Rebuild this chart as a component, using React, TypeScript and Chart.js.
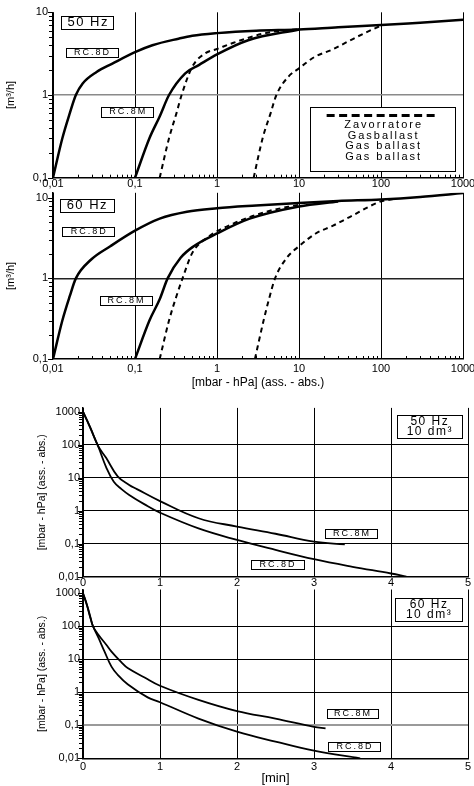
import React, { useEffect, useRef } from 'react';
import { Chart, registerables, ChartConfiguration, Plugin } from 'chart.js';

Chart.register(...registerables);

Chart.defaults.font.family = "'Liberation Sans', Arial, sans-serif";
Chart.defaults.color = '#000';

// ---- Flow rate [m3/h] vs pressure [mbar], 50 Hz ----
const rc8d50Pressure = [0.01, 0.013, 0.016, 0.019, 0.023, 0.034, 0.053, 0.1, 0.163, 0.34, 0.5, 1, 3, 10, 30, 100, 300, 1000];
const rc8d50Flow = [0.1, 0.3, 0.6, 1.0, 1.38, 1.9, 2.4, 3.3, 4.0, 4.8, 5.2, 5.6, 6.0, 6.2, 6.6, 7.0, 7.5, 8.1];
const rc8m50Pressure = [0.1, 0.15, 0.2, 0.26, 0.41, 0.6, 1, 2.4, 10];
const rc8m50Flow = [0.1, 0.3, 0.55, 1.0, 1.83, 2.3, 3.1, 4.6, 6.2];
const ballastD50Pressure = [0.2, 0.26, 0.32, 0.37, 0.5, 0.72, 1, 1.5, 3.9, 10];
const ballastD50Flow = [0.1, 0.3, 0.6, 1.0, 2.2, 3.2, 3.6, 4.2, 5.6, 6.3];
const ballastM50Pressure = [2.8, 3.6, 4.5, 5.3, 7.4, 10, 15.6, 24.8, 39, 63, 100];
const ballastM50Flow = [0.1, 0.3, 0.6, 1.0, 1.66, 2.1, 2.9, 3.5, 4.4, 5.6, 6.9];

// ---- Flow rate vs pressure, 60 Hz ----
const rc8d60Pressure = [0.01, 0.013, 0.016, 0.019, 0.029, 0.05, 0.1, 0.2, 0.43, 1, 3, 10, 30, 100, 300, 1000];
const rc8d60Flow = [0.1, 0.3, 0.6, 1.0, 1.7, 2.5, 3.9, 5.5, 6.7, 7.4, 8.0, 8.6, 9.1, 9.5, 10.2, 11.4];
const rc8m60Pressure = [0.1, 0.15, 0.2, 0.25, 0.36, 0.52, 1, 2.5, 10, 30];
const rc8m60Flow = [0.1, 0.3, 0.55, 1.0, 1.8, 2.5, 3.6, 5.5, 7.8, 9.0];
const ballastD60Pressure = [0.2, 0.26, 0.32, 0.38, 0.5, 0.76, 1.6, 4.0, 10];
const ballastD60Flow = [0.1, 0.3, 0.6, 1.0, 2.07, 3.2, 4.8, 6.7, 8.2];
const ballastM60Pressure = [2.9, 3.7, 4.4, 5.1, 7.1, 10, 16, 26, 42, 100, 150];
const ballastM60Flow = [0.1, 0.3, 0.6, 1.0, 1.8, 2.5, 3.6, 4.5, 5.8, 9.0, 9.7];

// ---- Pump-down of 10 dm3: pressure [mbar] vs time [min] ----
const rc8m50Time = [0, 0.05, 0.1, 0.2, 0.3, 0.45, 0.6, 0.7, 1.0, 1.5, 2.0, 2.5, 3.0, 3.4];
const rc8m50Down = [1000, 560, 310, 88, 40, 11, 6, 4.5, 1.95, 0.59, 0.33, 0.2, 0.115, 0.095];
const rc8d50Time = [0, 0.05, 0.1, 0.2, 0.3, 0.4, 0.5, 0.6, 0.8, 1.0, 1.5, 2.0, 2.5, 3.0, 3.5, 4.0, 4.2];
const rc8d50Down = [1000, 550, 300, 85, 21, 7.5, 4.5, 3.0, 1.55, 0.87, 0.29, 0.13, 0.065, 0.034, 0.02, 0.0125, 0.01];
const rc8m60Time = [0, 0.05, 0.1, 0.13, 0.2, 0.3, 0.37, 0.5, 0.58, 0.8, 1.0, 1.5, 2.0, 2.5, 3.0, 3.15];
const rc8m60Down = [1000, 460, 175, 100, 55, 28, 17, 8.0, 5.4, 2.8, 1.58, 0.59, 0.27, 0.16, 0.09, 0.081];
const rc8d60Time = [0, 0.05, 0.1, 0.13, 0.2, 0.28, 0.37, 0.45, 0.58, 0.84, 1.0, 1.5, 2.0, 2.5, 3.0, 3.6];
const rc8d60Down = [1000, 440, 165, 100, 45, 17, 6, 3.4, 1.76, 0.7, 0.5, 0.16, 0.064, 0.032, 0.017, 0.01];

const pressureTicks = [0.01, 0.1, 1, 10, 100, 1000];
const flowTicks = [0.1, 1, 10];

type Note = {
  fx: number;
  fy: number;
  w: number;
  h: number;
  lines: string[];
  size: number;
  gap: number;
  spacing: number;
  shiftY?: number;
  dash?: boolean;
};

const pts = (xs: number[], ys: number[]) => xs.map((x, i) => ({ x, y: ys[i] }));

const isDecade = (v: number) => {
  const l = Math.log10(v);
  return Math.abs(l - Math.round(l)) < 1e-6;
};

const decimalComma = (v: number) => String(v).replace('.', ',');

// short log-scale tick marks (minor 2..9 and the decades)
const logTicksPlugin: Plugin = {
  id: 'logTicks',
  afterDraw(chart, _args, opts: any) {
    const { ctx, chartArea: a } = chart;
    ctx.save();
    ctx.strokeStyle = '#000';
    ctx.lineWidth = 1;
    for (const ax of (opts.axes || []) as { id: string; minor: number; major: number }[]) {
      const scale: any = chart.scales[ax.id];
      const lo = Math.floor(Math.log10(scale.min));
      const hi = Math.ceil(Math.log10(scale.max));
      for (let e = lo; e <= hi; e++) {
        for (let m = 1; m < 10; m++) {
          const v = m * Math.pow(10, e);
          if (v < scale.min * 0.999 || v > scale.max * 1.001) continue;
          const len = m === 1 ? ax.major : ax.minor;
          const p = Math.round(scale.getPixelForValue(v)) + 0.5;
          ctx.beginPath();
          if (scale.isHorizontal()) {
            ctx.moveTo(p, a.bottom);
            ctx.lineTo(p, a.bottom - len);
          } else {
            ctx.moveTo(a.left, p);
            ctx.lineTo(a.left - len, p);
          }
          ctx.stroke();
        }
      }
    }
    ctx.restore();
  },
};

// boxed labels placed relative to the plot area
const notesPlugin: Plugin = {
  id: 'notes',
  afterDraw(chart, _args, opts: any) {
    const { ctx, chartArea: a } = chart;
    for (const n of (opts.items || []) as Note[]) {
      const cx = a.left + n.fx * (a.right - a.left);
      const cy = a.top + n.fy * (a.bottom - a.top);
      const x0 = Math.round(cx - n.w / 2) + 0.5;
      const y0 = Math.round(cy - n.h / 2) + 0.5;
      ctx.save();
      ctx.fillStyle = '#fff';
      ctx.fillRect(x0, y0, n.w, n.h);
      ctx.strokeStyle = '#000';
      ctx.lineWidth = 1;
      ctx.strokeRect(x0, y0, n.w, n.h);
      if (n.dash) {
        ctx.beginPath();
        ctx.setLineDash([8, 4.5]);
        ctx.lineWidth = 3;
        ctx.moveTo(cx - 56, y0 + 8);
        ctx.lineTo(cx + 54, y0 + 8);
        ctx.stroke();
        ctx.setLineDash([]);
      }
      ctx.fillStyle = '#000';
      ctx.font = `${n.size}px 'Liberation Sans', Arial, sans-serif`;
      (ctx as any).letterSpacing = `${n.spacing}px`;
      ctx.textAlign = 'center';
      ctx.textBaseline = 'middle';
      const start = cy + (n.shiftY || 0) - ((n.lines.length - 1) * n.gap) / 2;
      n.lines.forEach((t, i) => ctx.fillText(t, cx + n.spacing / 2, start + i * n.gap));
      ctx.restore();
    }
  },
};

const solid = (data: { x: number; y: number }[], width: number) => ({
  data,
  borderColor: '#000',
  borderWidth: width,
  pointRadius: 0,
  cubicInterpolationMode: 'monotone' as const,
  fill: false,
});

// smoother spline for the pump-down curves
const smooth = (data: { x: number; y: number }[], width: number) => ({
  ...solid(data, width),
  cubicInterpolationMode: 'default' as const,
  tension: 0.4,
});

const dashed = (data: { x: number; y: number }[]) => ({
  ...solid(data, 2),
  borderDash: [5, 4],
});

type FlowSetup = {
  series: { x: number; y: number }[][];
  dashedFrom: number;
  yMax: number;
  padTop: number;
  xHeight: number;
  xPad: number;
  unityColor: string;
  xTitle: boolean;
  notes: Note[];
};

function flowConfig(s: FlowSetup): ChartConfiguration<'line'> {
  return {
    type: 'line',
    data: {
      datasets: s.series.map((d, i) => (i >= s.dashedFrom ? dashed(d) : solid(d, 2.5))),
    },
    options: {
      responsive: false,
      animation: false,
      events: [],
      layout: { padding: { top: s.padTop, right: 11, left: 0, bottom: 0 } },
      scales: {
        x: {
          type: 'logarithmic',
          min: pressureTicks[0],
          max: pressureTicks[pressureTicks.length - 1],
          afterFit: (sc: any) => {
            sc.height = s.xHeight;
            sc.paddingLeft = 0;
            sc.paddingRight = 0;
          },
          border: { color: '#000', width: 1.5 },
          grid: {
            drawTicks: false,
            color: (c: any) => (isDecade(c.tick.value) ? '#000' : 'rgba(0,0,0,0)'),
          },
          ticks: {
            autoSkip: false,
            maxRotation: 0,
            padding: s.xPad,
            font: { size: 11 },
            callback: (v: any) => (pressureTicks.some((t) => Math.abs(t - v) < t * 1e-6) ? decimalComma(v) : ''),
          },
          title: {
            display: s.xTitle,
            text: '[mbar - hPa] (ass. - abs.)',
            font: { size: 12 },
            padding: { top: 0, bottom: 1.8 },
          },
        },
        y: {
          type: 'logarithmic',
          min: flowTicks[0],
          max: s.yMax,
          afterFit: (sc: any) => {
            sc.width = 53;
            sc.paddingTop = 0;
            sc.paddingBottom = 0;
          },
          border: { color: '#000', width: 1.5 },
          grid: {
            drawTicks: false,
            lineWidth: 1.5,
            color: (c: any) => (Math.abs(c.tick.value - 1) < 1e-6 ? s.unityColor : 'rgba(0,0,0,0)'),
          },
          ticks: {
            autoSkip: false,
            padding: 5,
            font: { size: 11 },
            callback: (v: any) => (flowTicks.some((t) => Math.abs(t - v) < t * 1e-6) ? decimalComma(v) : ''),
          },
          title: { display: true, text: '[m³/h]', font: { size: 11 }, padding: { top: 4, bottom: 0 } },
        },
      },
      plugins: {
        legend: { display: false },
        tooltip: { enabled: false },
        logTicks: { axes: [{ id: 'y', minor: 4, major: 5 }, { id: 'x', minor: 3, major: 0 }] },
        notes: { items: s.notes },
      } as any,
    },
    plugins: [logTicksPlugin, notesPlugin],
  };
}

type DownSetup = {
  series: { x: number; y: number }[][];
  padTop: number;
  xHeight: number;
  xPad: number;
  tenthColor: string;
  tenthWidth: number;
  xTitle: boolean;
  notes: Note[];
};

function downConfig(s: DownSetup): ChartConfiguration<'line'> {
  return {
    type: 'line',
    data: { datasets: s.series.map((d) => smooth(d, 1.8)) },
    options: {
      responsive: false,
      animation: false,
      events: [],
      layout: { padding: { top: s.padTop, right: 6, left: 0, bottom: 0 } },
      scales: {
        x: {
          type: 'linear',
          min: 0,
          max: 5,
          afterFit: (sc: any) => {
            sc.height = s.xHeight;
            sc.paddingLeft = 0;
            sc.paddingRight = 0;
          },
          border: { color: '#000', width: 1.5 },
          grid: { drawTicks: false, color: '#000' },
          ticks: { stepSize: 1, padding: s.xPad, font: { size: 11 }, maxRotation: 0 },
          title: { display: s.xTitle, text: '[min]', font: { size: 13 }, padding: { top: 0, bottom: 0 } },
        },
        y: {
          type: 'logarithmic',
          min: pressureTicks[0],
          max: 1300,
          afterFit: (sc: any) => {
            sc.width = 83;
            sc.paddingTop = 0;
            sc.paddingBottom = 0;
          },
          border: { color: '#000', width: 1.5 },
          grid: {
            drawTicks: false,
            lineWidth: (c: any) => (Math.abs(c.tick.value - 0.1) < 1e-6 ? s.tenthWidth : 1),
            color: (c: any) => {
              const v = c.tick.value;
              if (!isDecade(v) || v >= 999) return 'rgba(0,0,0,0)';
              return Math.abs(v - 0.1) < 1e-6 ? s.tenthColor : '#000';
            },
          },
          ticks: {
            autoSkip: false,
            padding: 3,
            font: { size: 11 },
            callback: (v: any) => (pressureTicks.some((t) => Math.abs(t - v) < t * 1e-6) ? decimalComma(v) : ''),
          },
          title: {
            display: true,
            text: '[mbar - hPa] (ass. - abs.)',
            font: { size: 10.5 },
            padding: { top: 36, bottom: 0 },
          },
        },
      },
      plugins: {
        legend: { display: false },
        tooltip: { enabled: false },
        logTicks: { axes: [{ id: 'y', minor: 4, major: 5 }] },
        notes: { items: s.notes },
      } as any,
    },
    plugins: [logTicksPlugin, notesPlugin],
  };
}

const legendNote: Note = {
  fx: 0.804, fy: 0.766, w: 145, h: 64, size: 11, gap: 10.5, spacing: 2, shiftY: 2, dash: true,
  lines: ['Zavorratore', 'Gasballast', 'Gas ballast', 'Gas ballast'],
};

const panels: { top: number; height: number; make: () => ChartConfiguration<'line'> }[] = [
  {
    top: 0,
    height: 192,
    make: () =>
      flowConfig({
        series: [
          pts(rc8d50Pressure, rc8d50Flow),
          pts(rc8m50Pressure, rc8m50Flow),
          pts(ballastD50Pressure, ballastD50Flow),
          pts(ballastM50Pressure, ballastM50Flow),
        ],
        dashedFrom: 2,
        yMax: 10,
        padTop: 12.3,
        xHeight: 14.3,
        xPad: 0,
        unityColor: '#8a8a8a',
        xTitle: false,
        notes: [
          { fx: 0.084, fy: 0.063, w: 52, h: 13, lines: ['50 Hz'], size: 13, gap: 12, spacing: 1.5 },
          { fx: 0.094, fy: 0.241, w: 52, h: 9, lines: ['RC.8D'], size: 9, gap: 9, spacing: 2 },
          { fx: 0.181, fy: 0.601, w: 52, h: 10, lines: ['RC.8M'], size: 9, gap: 9, spacing: 2 },
          legendNote,
        ],
      }),
  },
  {
    top: 192,
    height: 200,
    make: () =>
      flowConfig({
        series: [
          pts(rc8d60Pressure, rc8d60Flow),
          pts(rc8m60Pressure, rc8m60Flow),
          pts(ballastD60Pressure, ballastD60Flow),
          pts(ballastM60Pressure, ballastM60Flow),
        ],
        dashedFrom: 2,
        yMax: 11.5,
        padTop: 0.8,
        xHeight: 33,
        xPad: 3,
        unityColor: '#222',
        xTitle: true,
        notes: [
          { fx: 0.082, fy: 0.078, w: 54, h: 13, lines: ['60 Hz'], size: 13, gap: 12, spacing: 1.5 },
          { fx: 0.086, fy: 0.235, w: 52, h: 9, lines: ['RC.8D'], size: 9, gap: 9, spacing: 2 },
          { fx: 0.177, fy: 0.646, w: 52, h: 9, lines: ['RC.8M'], size: 9, gap: 9, spacing: 2 },
        ],
      }),
  },
  {
    top: 392,
    height: 196,
    make: () =>
      downConfig({
        series: [pts(rc8m50Time, rc8m50Down), pts(rc8d50Time, rc8d50Down)],
        padTop: 15.9,
        xHeight: 11.3,
        xPad: 0,
        tenthColor: '#000',
        tenthWidth: 1,
        xTitle: false,
        notes: [
          { fx: 0.899, fy: 0.11, w: 65, h: 23, lines: ['50 Hz', '10 dm³'], size: 12, gap: 9.5, spacing: 1.5 },
          { fx: 0.696, fy: 0.742, w: 52, h: 9, lines: ['RC.8M'], size: 9, gap: 9, spacing: 2 },
          { fx: 0.504, fy: 0.929, w: 53, h: 9, lines: ['RC.8D'], size: 9, gap: 9, spacing: 2 },
        ],
      }),
  },
  {
    top: 588,
    height: 198,
    make: () =>
      downConfig({
        series: [pts(rc8m60Time, rc8m60Down), pts(rc8d60Time, rc8d60Down)],
        padTop: 1.5,
        xHeight: 27.7,
        xPad: 2,
        tenthColor: '#9a9a9a',
        tenthWidth: 2,
        xTitle: true,
        notes: [
          { fx: 0.897, fy: 0.12, w: 67, h: 23, lines: ['60 Hz', '10 dm³'], size: 12, gap: 9.5, spacing: 1.5 },
          { fx: 0.699, fy: 0.733, w: 51, h: 9, lines: ['RC.8M'], size: 9, gap: 9, spacing: 2 },
          { fx: 0.704, fy: 0.93, w: 52, h: 9, lines: ['RC.8D'], size: 9, gap: 9, spacing: 2 },
        ],
      }),
  },
];

const Panel: React.FC<{ top: number; height: number; make: () => ChartConfiguration<'line'> }> = ({ top, height, make }) => {
  const canvasRef = useRef<HTMLCanvasElement | null>(null);

  useEffect(() => {
    if (!canvasRef.current) return;
    const chart = new Chart(canvasRef.current, make());
    return () => chart.destroy();
  }, [make]);

  return (
    <canvas
      ref={canvasRef}
      width={474}
      height={height}
      style={{ position: 'absolute', left: 0, top, width: 474, height, display: 'block' }}
    />
  );
};

export default function App() {
  return (
    <div style={{ position: 'fixed', left: 0, top: 0, width: 474, height: 786, background: '#fff', overflow: 'hidden' }}>
      {panels.map((p, i) => (
        <Panel key={i} top={p.top} height={p.height} make={p.make} />
      ))}
    </div>
  );
}
